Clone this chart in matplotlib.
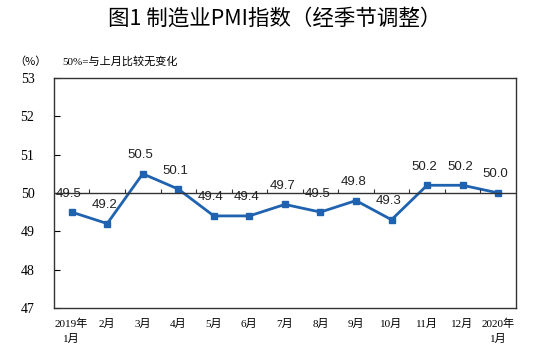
import numpy as np
import matplotlib.pyplot as plt

months = ['2019年\n1月', '2月', '3月', '4月', '5月', '6月', '7月', '8月', '9月',
          '10月', '11月', '12月', '2020年\n1月']
pmi = [49.5, 49.2, 50.5, 50.1, 49.4, 49.4, 49.7, 49.5, 49.8, 49.3, 50.2, 50.2, 50.0]

cjk = ['Noto Sans CJK SC', 'DejaVu Sans']
serif = ['Liberation Serif', 'Noto Sans CJK SC']

fig = plt.figure(figsize=(5.5, 3.63), dpi=100)
ax = fig.add_axes([0.098, 0.152, 0.84, 0.633])

x = np.arange(len(pmi))
ax.plot(x, pmi, color='#1F62B0', lw=2, marker='s', ms=4.5)
for xi, v in zip(x, pmi):
    ax.annotate('%.1f' % v, (xi, v), xytext=(-2, 9), textcoords='offset points',
                ha='center', va='bottom', fontsize=9.5, family='Liberation Sans',
                color='#222222')

# 50 reference line with small ticks between months
ax.axhline(50, color='#333333', lw=1)
ax.vlines(np.arange(0.5, len(pmi) - 1), 50, 50.1, color='#333333', lw=0.8)

ax.set_xlim(-0.5, len(pmi) - 0.5)
ax.set_ylim(47, 53)
ax.set_yticks(range(47, 54))
ax.set_xticks(x)
ax.set_xticklabels(months, family=serif, fontsize=8, linespacing=1.6)
ax.tick_params(axis='x', length=0, pad=8)
ax.tick_params(axis='y', direction='in', length=4, labelsize=10, pad=14)
for lab in ax.get_yticklabels():
    lab.set_family(serif)
for s in ax.spines.values():
    s.set_color('#333333')
    s.set_linewidth(1)

fig.text(0.5, 0.95, '图1 制造业PMI指数（经季节调整）', ha='center', va='center',
         family=cjk, fontsize=15.5, fontweight='medium')
fig.text(0.055, 0.83, '（%）', ha='center', va='center', family=cjk, fontsize=8)
fig.text(0.113, 0.83, '50%=与上月比较无变化', ha='left', va='center',
         family=serif, fontsize=8)

fig.savefig('out.png', dpi=100)
